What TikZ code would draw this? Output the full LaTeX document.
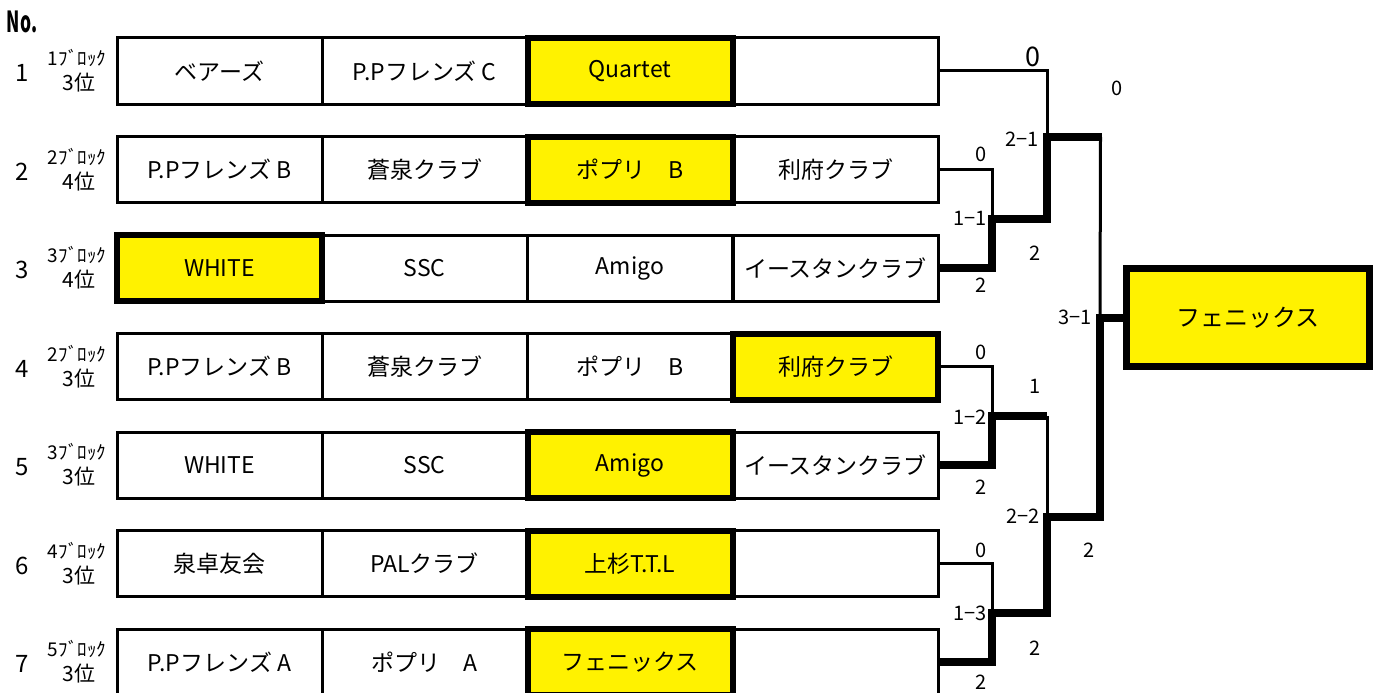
\documentclass[tikz,border=0pt]{standalone}
\usepackage{fontspec}
\setmainfont{Noto Sans CJK JP}
\begin{document}
\begin{tikzpicture}[x=1pt,y=-1pt,
  cell/.style={draw,line width=3pt,minimum width=205pt,minimum height=66pt,inner sep=0pt,font=\fontsize{23}{23}\selectfont},
  win/.style={cell,fill=yellow,line width=6pt},
  thinl/.style={line width=3pt,line join=miter},
  thkl/.style={line width=8pt,line join=miter},
  score/.style={font=\fontsize{20}{20}\selectfont,inner sep=0pt},
  numl/.style={font=\fontsize{24}{24}\selectfont,inner sep=0pt},
  blk/.style={font=\fontsize{19}{19}\selectfont,inner sep=0pt},
  rnk/.style={font=\fontsize{21}{21}\selectfont,inner sep=0pt},
]
\useasboundingbox (0,0) rectangle (1379,693);

\node[font=\bfseries\fontsize{29}{29}\selectfont,inner sep=0pt] (no) at (22,22) {\scalebox{0.6}[1]{No.}};

% row 1
\node[cell] (r1c1) at (219.5,71) {ベアーズ};
\node[cell] (r1c2) at (424.5,71) {P.Pフレンズ C};
\node[cell] (r1c4) at (835.5,71) {};
\node[win]  (r1c3) at (630,71) {Quartet};
% row 2
\node[cell] (r2c1) at (219.5,169.5) {P.Pフレンズ B};
\node[cell] (r2c2) at (424.5,169.5) {蒼泉クラブ};
\node[cell] (r2c4) at (835.5,169.5) {利府クラブ};
\node[win]  (r2c3) at (630,169.5) {ポプリ　B};
% row 3
\node[cell] (r3c2) at (424.5,268) {SSC};
\node[cell] (r3c3) at (630,268) {Amigo};
\node[cell] (r3c4) at (835.5,268) {イースタンクラブ};
\node[win]  (r3c1) at (219.5,268) {WHITE};
% row 4
\node[cell] (r4c1) at (219.5,366.5) {P.Pフレンズ B};
\node[cell] (r4c2) at (424.5,366.5) {蒼泉クラブ};
\node[cell] (r4c3) at (630,366.5) {ポプリ　B};
\node[win]  (r4c4) at (835.5,366.5) {利府クラブ};
% row 5
\node[cell] (r5c1) at (219.5,465) {WHITE};
\node[cell] (r5c2) at (424.5,465) {SSC};
\node[cell] (r5c4) at (835.5,465) {イースタンクラブ};
\node[win]  (r5c3) at (630,465) {Amigo};
% row 6
\node[cell] (r6c1) at (219.5,563.5) {泉卓友会};
\node[cell] (r6c2) at (424.5,563.5) {PALクラブ};
\node[cell] (r6c4) at (835.5,563.5) {};
\node[win]  (r6c3) at (630,563.5) {上杉T.T.L};
% row 7
\node[cell] (r7c1) at (219.5,662) {P.Pフレンズ A};
\node[cell] (r7c2) at (424.5,662) {ポプリ　A};
\node[cell] (r7c4) at (835.5,662) {};
\node[win]  (r7c3) at (630,662) {フェニックス};

% left labels
\foreach \i/\y/\b/\p in {1/71/1/3,2/169.5/2/4,3/268/3/4,4/366.5/2/3,5/465/3/3,6/563.5/4/3,7/662/5/3}{
  \node[numl] (n\i) at (22,\y+2) {\i};
  \node[blk] (b\i) at (77,\y-13) {\b ﾌﾞﾛｯｸ};
  \node[rnk] (p\i) at (79,\y+12) {\p 位};
}

% final
\node[draw,line width=7pt,fill=yellow,minimum width=243pt,minimum height=98pt,inner sep=0pt,font=\fontsize{24}{24}\selectfont] (final) at (1248,317.5) {フェニックス};

% junctions
\coordinate (j11) at (992,218.75);
\coordinate (j12) at (992,415.75);
\coordinate (j13) at (992,612.75);
\coordinate (j21) at (1047,137);
\coordinate (j22) at (1047,517);
\coordinate (j31) at (1100,317.5);
\coordinate (k1) at (1102,137);
\coordinate (k1t) at (1100.5,137);
\coordinate (k2) at (1047,415.75);

% thin lines
\draw[thinl] (r1c4.east) -| (j21);
\draw[thinl] (r2c4.east) -| (j11);
\draw[thinl] (r4c4.east) -| (j12);
\draw[thinl] (r6c4.east) -| (j13);
\draw[thinl] (k1t) -- (j31);
\draw[thinl] (k2) -- (j22);
% thick lines
\draw[thkl] (r3c4.east) -| (j11) -| (j21) -- (k1);
\draw[thkl] (r5c4.east) -| (j12) -- (k2);
\draw[thkl] (r7c4.east) -| (j13) -| (j22) -| (j31) -- (final.west);

% scores
\node[score,font=\fontsize{27}{27}\selectfont] (s1) at (1033,57) {0};
\node[score] (s2) at (1117,88) {0};
\node[score] (s3) at (1022,139) {2−1};
\node[score] (s4) at (981,154) {0};
\node[score] (s5) at (970,218) {1−1};
\node[score] (s6) at (1035,253) {2};
\node[score] (s7) at (981,285) {2};
\node[score] (s8) at (1075,317) {3−1};
\node[score] (s9) at (981,352) {0};
\node[score] (s10) at (1035,386) {1};
\node[score] (s11) at (970,417) {1−2};
\node[score] (s12) at (981,487) {2};
\node[score] (s13) at (1023,516) {2−2};
\node[score] (s14) at (1089,550) {2};
\node[score] (s15) at (981,550) {0};
\node[score] (s16) at (970,613) {1−3};
\node[score] (s17) at (1035,648) {2};
\node[score] (s18) at (981,682) {2};
\end{tikzpicture}
\end{document}
